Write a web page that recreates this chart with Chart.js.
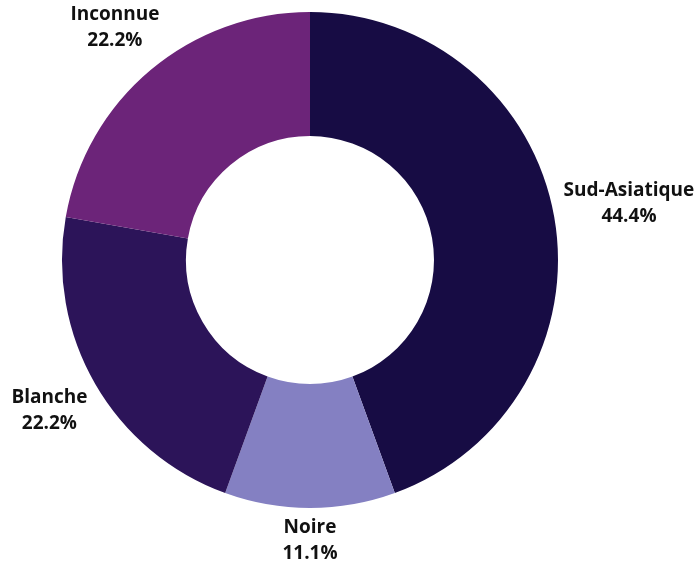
<!DOCTYPE html>
<html>
<head>
<meta charset="utf-8">
<script src="https://cdn.jsdelivr.net/npm/chart.js@4/dist/chart.umd.min.js"></script>
<style>
  html, body { margin: 0; padding: 0; background: #ffffff; }
  #wrap { width: 700px; height: 562px; position: relative; }
</style>
</head>
<body>
<div id="wrap"><canvas id="c"></canvas></div>
<script>
const categories = ["Sud-Asiatique", "Noire", "Blanche", "Inconnue"];
const values = [44.4, 11.1, 22.2, 22.2];
const valueLabels = ["44.4%", "11.1%", "22.2%", "22.2%"];
const colors = ["#170C44", "#8480C2", "#2C1459", "#6C2479"];

const labelPlugin = {
  id: 'outerLabels',
  afterDraw(chart) {
    const ctx = chart.ctx;
    const meta = chart.getDatasetMeta(0);
    const fontSize = 19;
    const lineH = 26;
    const pad = 7;
    ctx.save();
    ctx.font = "bold " + fontSize + "px 'Open Sans', sans-serif";
    ctx.fillStyle = "#111111";
    ctx.textAlign = "center";
    ctx.textBaseline = "middle";
    meta.data.forEach((arc, i) => {
      const p = arc.getProps(['x', 'y', 'startAngle', 'endAngle', 'outerRadius'], true);
      const mid = (p.startAngle + p.endAngle) / 2;
      const dx = Math.cos(mid), dy = Math.sin(mid);
      const lines = [categories[i], valueLabels[i]];
      const w = Math.max(...lines.map(t => ctx.measureText(t).width));
      const h = lineH * lines.length;
      const r = p.outerRadius + pad + Math.abs(dx) * w / 2 + Math.abs(dy) * h / 2;
      const cx = p.x + r * dx;
      const cy = p.y + r * dy;
      lines.forEach((t, j) => {
        ctx.fillText(t, cx, cy - h / 2 + lineH * (j + 0.5));
      });
    });
    ctx.restore();
  }
};

new Chart(document.getElementById('c'), {
  type: 'doughnut',
  data: {
    labels: categories,
    datasets: [{
      data: values,
      backgroundColor: colors,
      borderWidth: 0,
      hoverOffset: 0
    }]
  },
  options: {
    responsive: true,
    maintainAspectRatio: false,
    animation: false,
    cutout: '50%',
    layout: { padding: { left: 62, right: 142, top: 12, bottom: 54 } },
    plugins: {
      legend: { display: false },
      tooltip: { enabled: false }
    }
  },
  plugins: [labelPlugin]
});
</script>
</body>
</html>
